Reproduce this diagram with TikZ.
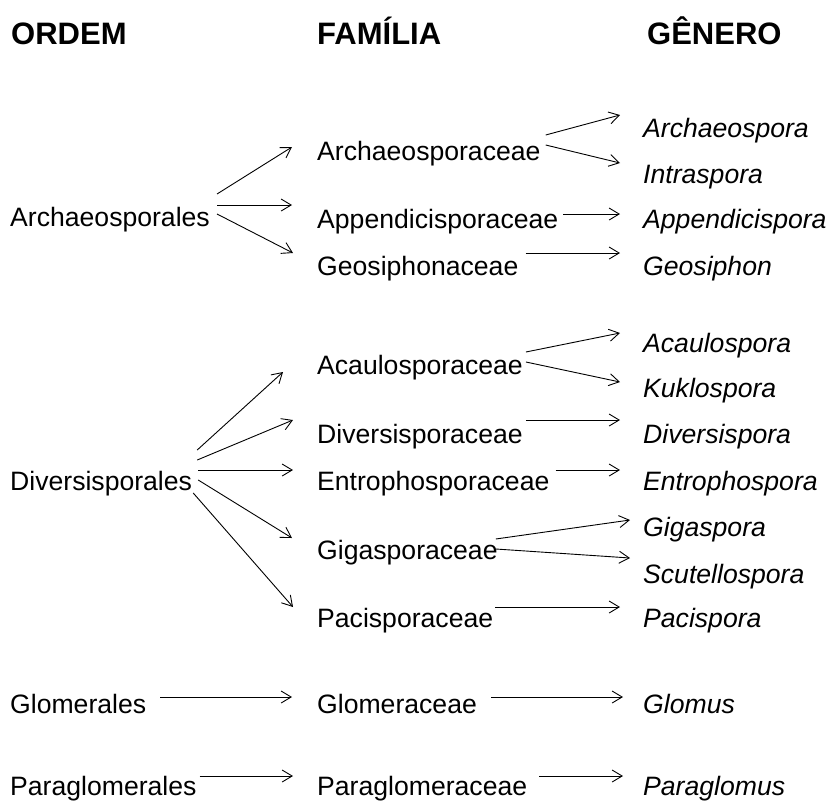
\documentclass[tikz,border=0pt]{standalone}
\usepackage{fontspec}
\setmainfont{Liberation Sans}
\usetikzlibrary{arrows.meta}
\begin{document}
\begin{tikzpicture}[x=1pt,y=-1pt,
            every node/.style={inner sep=0pt,anchor=base west,font=\fontsize{26.6}{32}\selectfont},
            head/.style={font=\fontsize{31}{36}\selectfont\bfseries},
            genus/.style={font=\fontsize{26.6}{32}\selectfont\itshape},
            arr/.style={-{Straight Barb[length=10pt,width=12pt]},line width=0.9pt}]
            \useasboundingbox (0,0) rectangle (831,801);
            % headers
            \node[head] (hO) at (11,44) {ORDEM};
            \node[head] (hF) at (317,44) {FAMÍLIA};
            \node[head] (hG) at (647,44) {GÊNERO};
            % ordem
            \node (arO) at (10,226) {Archaeosporales};
            \node (diO) at (10,490) {Diversisporales};
            \node (glO) at (10,713) {Glomerales};
            \node (paO) at (10,795) {Paraglomerales};
            % familia
            \node (archF) at (317,160) {Archaeosporaceae};
            \node (appF) at (317,228) {Appendicisporaceae};
            \node (geoF) at (317,275) {Geosiphonaceae};
            \node (acaF) at (317,374) {Acaulosporaceae};
            \node (divF) at (317,443) {Diversisporaceae};
            \node (entF) at (317,490) {Entrophosporaceae};
            \node (gigF) at (317,559) {Gigasporaceae};
            \node (pacF) at (317,627) {Pacisporaceae};
            \node (gloF) at (317,713) {Glomeraceae};
            \node (parF) at (317,795) {Paraglomeraceae};
            % genero
            \node[genus] (archG) at (643,137) {Archaeospora};
            \node[genus] (intG) at (643,183) {Intraspora};
            \node[genus] (appG) at (643,228) {Appendicispora};
            \node[genus] (geoG) at (643,275) {Geosiphon};
            \node[genus] (acaG) at (643,352) {Acaulospora};
            \node[genus] (kukG) at (643,397) {Kuklospora};
            \node[genus] (divG) at (643,443) {Diversispora};
            \node[genus] (entG) at (643,490) {Entrophospora};
            \node[genus] (gigG) at (643,536) {Gigaspora};
            \node[genus] (scuG) at (643,583) {Scutellospora};
            \node[genus] (pacG) at (643,627) {Pacispora};
            \node[genus] (gloG) at (643,713) {Glomus};
            \node[genus] (parG) at (643,795) {Paraglomus};
            % ordem -> familia
            \draw[arr] ([shift={(7,-32)}]arO.base east) -- ([shift={(-25,-13)}]archF.base west);
            \draw[arr] ([shift={(7,-21)}]arO.base east) -- ([shift={(-25,-23)}]appF.base west);
            \draw[arr] ([shift={(7,-12)}]arO.base east) -- ([shift={(-24,-22)}]geoF.base west);
            \draw[arr] ([shift={(5,-40)}]diO.base east) -- ([shift={(-34,-2)}]acaF.base west);
            \draw[arr] ([shift={(5,-30)}]diO.base east) -- ([shift={(-24,-23)}]divF.base west);
            \draw[arr] ([shift={(6,-20)}]diO.base east) -- ([shift={(-24,-20)}]entF.base west);
            \draw[arr] ([shift={(6,-10)}]diO.base east) -- ([shift={(-25,-21)}]gigF.base west);
            \draw[arr] ([shift={(1,3)}]diO.base east) -- ([shift={(-24,-20)}]pacF.base west);
            \draw[arr] ([shift={(14,-16)}]glO.base east) -- ([shift={(-25,-16)}]gloF.base west);
            \draw[arr] ([shift={(3,-19)}]paO.base east) -- ([shift={(-24,-19)}]parF.base west);
            % familia -> genero
            \draw[arr] ([shift={(5,-25)}]archF.base east) -- ([shift={(-23,-22)}]archG.base west);
            \draw[arr] ([shift={(5,-15)}]archF.base east) -- ([shift={(-23,-20)}]intG.base west);
            \draw[arr] ([shift={(5,-14)}]appF.base east) -- ([shift={(-23,-14)}]appG.base west);
            \draw[arr] ([shift={(7,-22)}]geoF.base east) -- ([shift={(-23,-22)}]geoG.base west);
            \draw[arr] ([shift={(3,-22)}]acaF.base east) -- ([shift={(-23,-19)}]acaG.base west);
            \draw[arr] ([shift={(3,-12)}]acaF.base east) -- ([shift={(-23,-15)}]kukG.base west);
            \draw[arr] ([shift={(3,-23)}]divF.base east) -- ([shift={(-23,-23)}]divG.base west);
            \draw[arr] ([shift={(6,-20)}]entF.base east) -- ([shift={(-23,-20)}]entG.base west);
            \draw[arr] ([shift={(-2,-20)}]gigF.base east) -- ([shift={(-13,-16)}]gigG.base west);
            \draw[arr] ([shift={(-2,-10)}]gigF.base east) -- ([shift={(-13,-25)}]scuG.base west);
            \draw[arr] ([shift={(2,-20)}]pacF.base east) -- ([shift={(-23,-20)}]pacG.base west);
            \draw[arr] ([shift={(14,-16)}]gloF.base east) -- ([shift={(-20,-16)}]gloG.base west);
            \draw[arr] ([shift={(12,-19)}]parF.base east) -- ([shift={(-20,-19)}]parG.base west);
          \end{tikzpicture}
\end{document}
